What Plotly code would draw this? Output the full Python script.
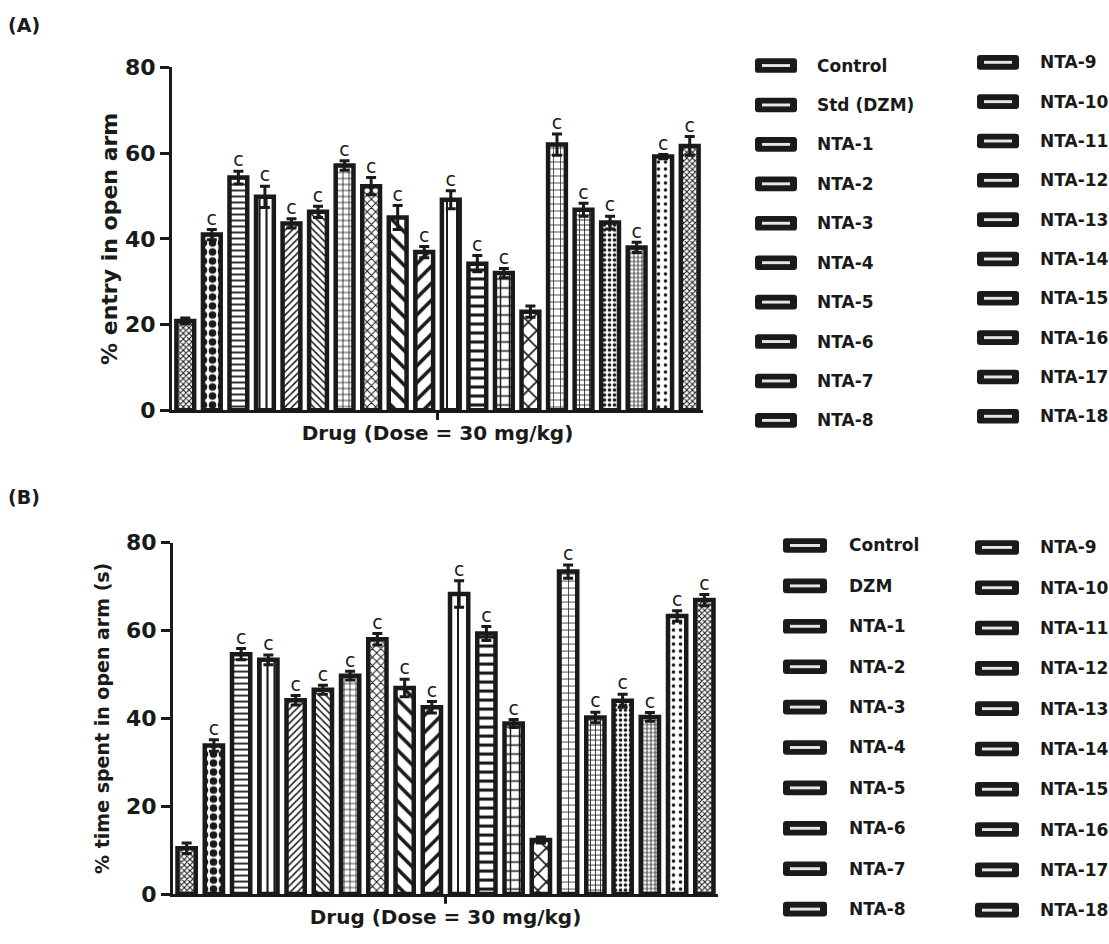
import plotly.graph_objects as go

# ---------------- data ----------------
groups_a = ["Control", "Std (DZM)", "NTA-1", "NTA-2", "NTA-3", "NTA-4", "NTA-5",
            "NTA-6", "NTA-7", "NTA-8", "NTA-9", "NTA-10", "NTA-11", "NTA-12",
            "NTA-13", "NTA-14", "NTA-15", "NTA-16", "NTA-17", "NTA-18"]
groups_b = ["Control", "DZM", "NTA-1", "NTA-2", "NTA-3", "NTA-4", "NTA-5",
            "NTA-6", "NTA-7", "NTA-8", "NTA-9", "NTA-10", "NTA-11", "NTA-12",
            "NTA-13", "NTA-14", "NTA-15", "NTA-16", "NTA-17", "NTA-18"]

# (A) % entry in open arm, mean and SEM
entry_mean = [20.8, 41.0, 54.3, 49.8, 43.6, 46.3, 57.1, 52.3, 45.0, 36.9,
              49.1, 34.2, 32.0, 23.0, 62.0, 46.8, 43.8, 38.0, 59.2, 61.7]
entry_sem = [0.7, 1.2, 1.5, 2.5, 1.1, 1.3, 1.1, 2.0, 2.8, 1.3,
             2.1, 1.9, 1.1, 1.3, 2.5, 1.5, 1.5, 1.2, 0.5, 2.2]
entry_sig = ["", "c", "c", "c", "c", "c", "c", "c", "c", "c",
             "c", "c", "c", "", "c", "c", "c", "c", "c", "c"]

# (B) % time spent in open arm, mean and SEM
time_mean = [10.4, 33.8, 54.6, 53.3, 44.1, 46.5, 49.7, 58.0, 46.9, 42.5,
             68.3, 59.3, 38.8, 12.3, 73.4, 40.2, 44.0, 40.3, 63.3, 66.9]
time_sem = [1.2, 1.3, 1.3, 1.1, 1.1, 1.0, 1.0, 1.3, 2.0, 1.3,
            3.0, 1.6, 0.9, 0.7, 1.5, 1.2, 1.5, 1.0, 1.2, 1.3]
time_sig = ["", "c", "c", "c", "c", "c", "c", "c", "c", "c",
            "c", "c", "c", "", "c", "c", "c", "c", "c", "c"]

x_title = "Drug (Dose = 30 mg/kg)"
y_title_a = "% entry in open arm"
y_title_b = "% time spent in open arm (s)"
y_ticks = [0, 20, 40, 60, 80]

# ---------------- style ----------------
W, H = 1109, 944
BOLD = "DejaVu Sans"
INK = "#1a1a1a"

# fill pattern for each group: (shape, cell size, solidity)
patterns = [
    ("x", 4, 0.45), (".", 9, 0.55), ("-", 6, 0.3), ("|", 7, 0.3),
    ("/", 5, 0.3), ("\\", 5, 0.3), ("+", 6, 0.25), ("x", 6, 0.3),
    ("\\", 12, 0.3), ("/", 12, 0.3), ("|", 10, 0.2), ("-", 9, 0.35),
    ("+", 9, 0.3), ("x", 12, 0.25), ("+", 7, 0.2), ("+", 5, 0.3),
    (".", 5, 0.4), ("+", 4, 0.35), (".", 7, 0.2), ("x", 4, 0.45),
]


def px(x):
    return x / W


def py(y):
    return 1 - y / H


panels = [
    dict(groups=groups_a, mean=entry_mean, sem=entry_sem, sig=entry_sig,
         ytitle=y_title_a, ysize=22, ystand=2, xa="x", ya="y",
         xd=(172, 703), yd=(57, 409), label="(A)", label_y=13,
         legend=[(755, 797, 815, 55, 40.5), (977, 1019, 1038, 51.7, 40.4)]),
    dict(groups=groups_b, mean=time_mean, sem=time_sem, sig=time_sig,
         ytitle=y_title_b, ysize=19, ystand=12, xa="x2", ya="y2",
         xd=(173, 718), yd=(545, 906), label="(B)", label_y=498,
         legend=[(783, 827, 847, 548, 41.5), (975, 1019, 1038, 550, 41.4)]),
]

fig = go.Figure()
shapes = []
annotations = []

for p in panels:
    for i, (g, m, s) in enumerate(zip(p["groups"], p["mean"], p["sem"])):
        shp, size, sol = patterns[i]
        fig.add_trace(go.Bar(
            x=[g], y=[m], name=g, xaxis=p["xa"], yaxis=p["ya"], showlegend=False,
            marker=dict(color="white",
                        line=dict(color=INK, width=4.5),
                        pattern=dict(shape=shp, size=size, solidity=sol,
                                     fgcolor=INK, bgcolor="white",
                                     fillmode="replace")),
            error_y=dict(type="data", array=[s], color=INK, thickness=3, width=5),
        ))
    # significance letters sit on top of the error bars
    sx = [g for g, f in zip(p["groups"], p["sig"]) if f]
    sy = [m + s for m, s, f in zip(p["mean"], p["sem"], p["sig"]) if f]
    st = [f for f in p["sig"] if f]
    fig.add_trace(go.Scatter(
        x=sx, y=sy, text=st, mode="text", textposition="top center",
        textfont=dict(family="DejaVu Sans", size=19, color=INK),
        xaxis=p["xa"], yaxis=p["ya"], showlegend=False, cliponaxis=False,
        hoverinfo="skip",
    ))

    # single centred tick on the category axis
    dom_h = p["yd"][1] - p["yd"][0]
    shapes.append(dict(type="line", xref=f"{p['xa']} domain", yref=f"{p['ya']} domain",
                       x0=0.5, x1=0.5, y0=0, y1=-10 / dom_h,
                       line=dict(color=INK, width=3)))

    # panel label
    annotations.append(dict(text=p["label"], xref="paper", yref="paper",
                            x=px(6), y=py(p["label_y"]), xanchor="left", yanchor="middle",
                            showarrow=False,
                            font=dict(family=BOLD, size=19, color=INK, weight="bold")))

    # two-column key
    for i, g in enumerate(p["groups"]):
        sx0, sx1, tx, y0, step = p["legend"][i // 10]
        yc = y0 + step * (i % 10)
        shapes.append(dict(type="path", xref="paper", yref="paper",
                           path=(f"M{px(sx0 + 3)},{py(yc - 7.5)} L{px(sx1 - 3)},{py(yc - 7.5)} "
                                 f"Q{px(sx1)},{py(yc - 7.5)} {px(sx1)},{py(yc - 4.5)} "
                                 f"L{px(sx1)},{py(yc + 4.5)} "
                                 f"Q{px(sx1)},{py(yc + 7.5)} {px(sx1 - 3)},{py(yc + 7.5)} "
                                 f"L{px(sx0 + 3)},{py(yc + 7.5)} "
                                 f"Q{px(sx0)},{py(yc + 7.5)} {px(sx0)},{py(yc + 4.5)} "
                                 f"L{px(sx0)},{py(yc - 4.5)} "
                                 f"Q{px(sx0)},{py(yc - 7.5)} {px(sx0 + 3)},{py(yc - 7.5)} Z"),
                           fillcolor=INK, line=dict(width=0)))
        shapes.append(dict(type="rect", xref="paper", yref="paper",
                           x0=px(sx0 + 7), x1=px(sx1 - 7), y0=py(yc - 1.5), y1=py(yc + 1.5),
                           fillcolor="#e6e6e6", line=dict(width=0)))
        annotations.append(dict(text=g, xref="paper", yref="paper",
                                x=px(tx), y=py(yc), xanchor="left", yanchor="middle",
                                showarrow=False,
                                font=dict(family=BOLD, size=17, color=INK, weight="bold")))

axis_common = dict(showgrid=False, zeroline=False, showline=True, linecolor=INK,
                   linewidth=3)

for n, p in enumerate(panels, start=1):
    xk = "xaxis" if n == 1 else f"xaxis{n}"
    yk = "yaxis" if n == 1 else f"yaxis{n}"
    fig.update_layout({
        xk: dict(**axis_common, domain=[px(p["xd"][0]), px(p["xd"][1])],
                 anchor=p["ya"], type="category", categoryorder="array",
                 categoryarray=p["groups"], range=[-0.5, len(p["groups"]) - 0.5],
                 showticklabels=False, ticks="",
                 title=dict(text=x_title, standoff=14,
                            font=dict(family=BOLD, size=20, color=INK, weight="bold"))),
        yk: dict(**axis_common, domain=[py(p["yd"][1]), py(p["yd"][0])],
                 anchor=p["xa"], range=[0, 80], tickvals=y_ticks,
                 ticks="outside", ticklen=9, tickwidth=3, tickcolor=INK,
                 tickfont=dict(family=BOLD, size=22, color=INK, weight="bold"),
                 title=dict(text=p["ytitle"], standoff=p["ystand"],
                            font=dict(family=BOLD, size=p["ysize"], color=INK,
                                      weight="bold"))),
    })

fig.update_layout(
    width=W, height=H, margin=dict(l=0, r=0, t=0, b=0),
    paper_bgcolor="white", plot_bgcolor="white",
    barmode="overlay", bargap=0.33,
    shapes=shapes, annotations=annotations, showlegend=False,
)

fig.write_html("out.html")
